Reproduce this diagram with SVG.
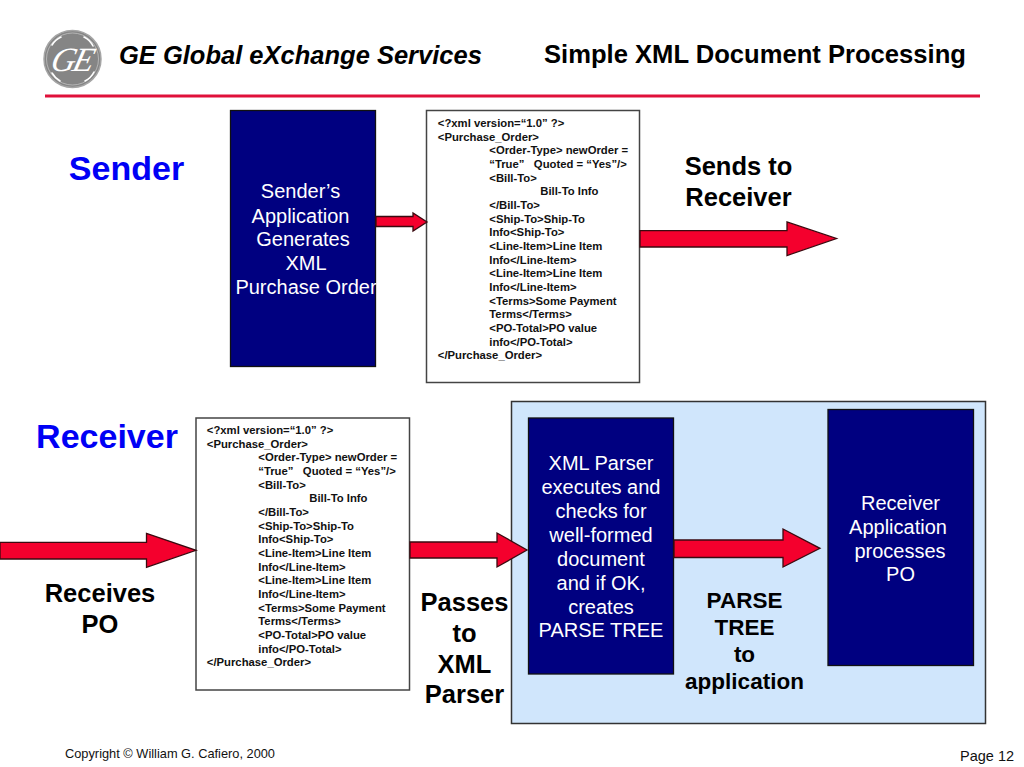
<svg xmlns="http://www.w3.org/2000/svg" width="1024" height="767" viewBox="0 0 1024 767">
<style>
text{font-family:"Liberation Sans",Arial,sans-serif}
.box{fill:#000080;stroke:#111;stroke-width:1.3}
.doc{fill:#fff;stroke:#444;stroke-width:1.5}
.arr{fill:#f4002d;stroke:#3a0a10;stroke-width:1.3}
.w{fill:#fff;font-size:20px;text-anchor:middle}
.x{fill:#111;font-size:11.3px;font-weight:bold}
.l{fill:#000;font-size:25.500px;font-weight:bold;text-anchor:middle}
.p{font-size:22.500px}
.h{fill:#0000f5;font-size:34px;font-weight:bold;text-anchor:middle}
.sw{fill:none;stroke:#fff;stroke-width:1.600;stroke-linecap:round}
</style>
<defs>
<g id="xml" class="x">
<text x="0" y="0">&lt;?xml version=“1.0” ?&gt;</text>
<text x="0" y="13.7">&lt;Purchase_Order&gt;</text>
<text x="51.5" y="27.4">&lt;Order-Type&gt; newOrder =</text>
<text x="51.5" y="41" xml:space="preserve">“True”   Quoted = “Yes”/&gt;</text>
<text x="51.5" y="54.7">&lt;Bill-To&gt;</text>
<text x="102.5" y="68.4">Bill-To Info</text>
<text x="51.5" y="82">&lt;/Bill-To&gt;</text>
<text x="51.5" y="95.7">&lt;Ship-To&gt;Ship-To</text>
<text x="51.5" y="109.4">Info&lt;Ship-To&gt;</text>
<text x="51.5" y="123">&lt;Line-Item&gt;Line Item</text>
<text x="51.5" y="136.7">Info&lt;/Line-Item&gt;</text>
<text x="51.5" y="150.4">&lt;Line-Item&gt;Line Item</text>
<text x="51.5" y="164">Info&lt;/Line-Item&gt;</text>
<text x="51.5" y="177.7">&lt;Terms&gt;Some Payment</text>
<text x="51.5" y="191.4">Terms&lt;/Terms&gt;</text>
<text x="51.5" y="205">&lt;PO-Total&gt;PO value</text>
<text x="51.5" y="218.7">info&lt;/PO-Total&gt;</text>
<text x="0" y="232.4">&lt;/Purchase_Order&gt;</text>
</g>
</defs>
<rect width="1024" height="767" fill="#fff"/>
<g id="header">
<circle cx="72.500" cy="59" r="28.500" fill="#858585" stroke="#a5a5a5" stroke-width="1.500"/>
<circle cx="72.500" cy="59" r="26" fill="none" stroke="#c8c8c8" stroke-width="0.700"/>
<path class="sw" d="M61 37Q55 40 52 45M84 37Q90 40 93 46M52 73Q55 78 60 81M94 72Q91 78 85 81"/>
<text x="72" y="71" text-anchor="middle" transform="translate(72 59) skewX(-14) translate(-72 -59)" style="font-family:'Liberation Serif',serif;font-style:italic;font-size:34px;letter-spacing:-3px" fill="#fff">GE</text>
<text x="119" y="64" style="font-size:25.500px;font-weight:bold;font-style:italic" fill="#000">GE Global eXchange Services</text>
<text x="544" y="63" style="font-size:25.600px;font-weight:bold" fill="#000">Simple XML Document Processing</text>
<rect x="45" y="94.500" width="935" height="3" fill="#e0103a"/>
</g>
<g id="receiver-panel"><rect x="511.500" y="401.500" width="474" height="322" fill="#d0e6fc" stroke="#333" stroke-width="1.500"/></g>
<g id="sender-title"><text class="h" x="126.500" y="180">Sender</text></g>
<g id="receiver-title"><text class="h" x="107" y="448">Receiver</text></g>
<g id="sender-app">
<rect class="box" x="230.500" y="110.500" width="145" height="256"/>
<text class="w"><tspan x="300.500" y="198">Sender’s</tspan><tspan x="300.500" y="222.500">Application</tspan><tspan x="303" y="246">Generates</tspan><tspan x="306" y="270">XML</tspan><tspan x="306" y="294">Purchase Order</tspan></text>
</g>
<g id="sender-doc">
<rect class="doc" x="426.500" y="110.500" width="213" height="272"/>
<use href="#xml" x="437.800" y="127"/>
</g>
<g id="receiver-doc">
<rect class="doc" x="196" y="418" width="213.500" height="272"/>
<use href="#xml" x="206.800" y="434"/>
</g>
<g id="xml-parser">
<rect class="box" x="528.500" y="418" width="145" height="256"/>
<text class="w"><tspan x="601" y="470">XML Parser</tspan><tspan x="601" y="494">executes and</tspan><tspan x="601" y="518">checks for</tspan><tspan x="601" y="542">well-formed</tspan><tspan x="601" y="566">document</tspan><tspan x="601" y="590">and if OK,</tspan><tspan x="601" y="614">creates</tspan><tspan x="601" y="637">PARSE TREE</tspan></text>
</g>
<g id="receiver-app">
<rect class="box" x="828" y="409.500" width="145.500" height="256"/>
<text class="w"><tspan x="900.500" y="510">Receiver</tspan><tspan x="898" y="534">Application</tspan><tspan x="900" y="558">processes</tspan><tspan x="900.500" y="581">PO</tspan></text>
</g>
<g id="connectors">
<polygon class="arr" points="376,216.500 413,216.500 413,213 427,222 413,231 413,226.500 376,226.500"/>
<polygon class="arr" points="640,230.700 787,230.700 787,222 836.500,238.500 787,255.500 787,247 640,247"/>
<polygon class="arr" points="0,542.300 146.500,542.300 146.500,533.300 196,550.300 146.500,567.300 146.500,559 0,559"/>
<polygon class="arr" points="410,542 497,542 497,533 527,550 497,567 497,558 410,558"/>
<polygon class="arr" points="674,540 783,540 783,529 820,548.300 783,567 783,557.500 674,557.500"/>
</g>
<g id="labels">
<text class="l" x="738.500" y="175">Sends to</text>
<text class="l" x="738.500" y="206">Receiver</text>
<text class="l" x="100" y="602">Receives</text>
<text class="l" x="100" y="633">PO</text>
<text class="l" x="464.500" y="611">Passes</text>
<text class="l" x="464.500" y="642">to</text>
<text class="l" x="464.500" y="673">XML</text>
<text class="l" x="464.500" y="703">Parser</text>
<text class="l p" x="744.500" y="608">PARSE</text>
<text class="l p" x="744.500" y="635">TREE</text>
<text class="l p" x="744.500" y="662">to</text>
<text class="l p" x="744.500" y="689">application</text>
</g>
<g id="footer">
<text x="65" y="758" style="font-size:12.800px" fill="#111">Copyright © William G. Cafiero, 2000</text>
<text x="960" y="760.500" style="font-size:14.500px" fill="#111">Page 12</text>
</g>
</svg>
